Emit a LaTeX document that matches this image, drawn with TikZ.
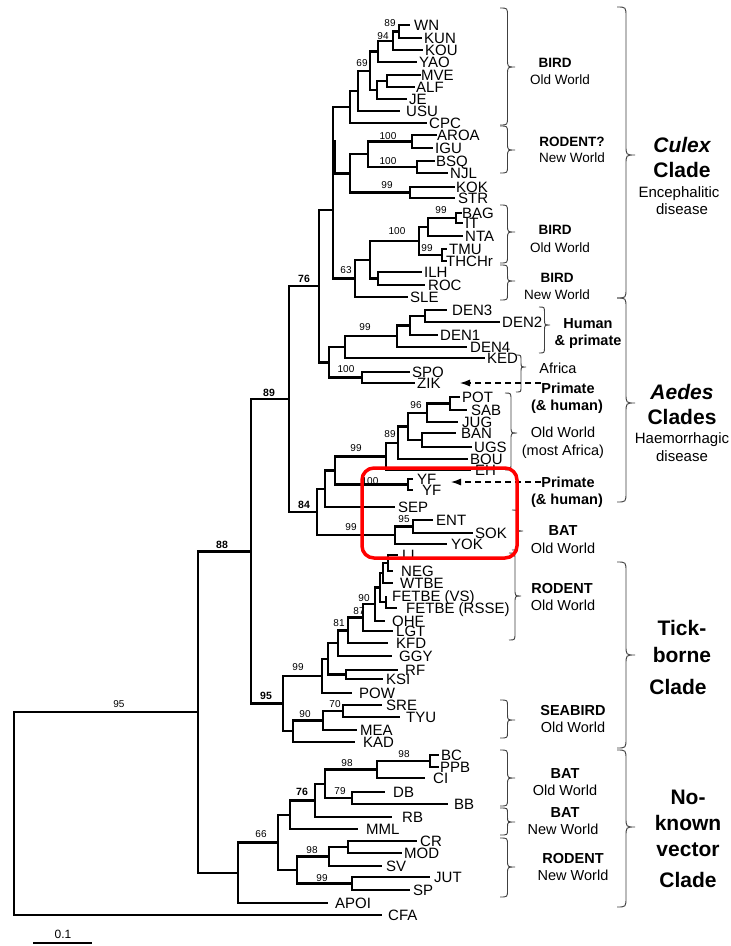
\documentclass[tikz,border=0pt]{standalone}
\usepackage{fontspec}
\setmainfont{Liberation Sans}
\usetikzlibrary{arrows.meta}
\newcommand\fsz[1]{\fontsize{#1}{#1}\selectfont}
\newcommand\leafx[5]{\coordinate (#1) at (#2,#3); \node[lf] (#1t) at (#4,#3) {#5};}
\newcommand\cbrace[6]{%
 \draw[brc] (#1,#2) .. controls ({#1+0.5*#5},#2) .. ({#1+0.5*#5},{#2+#6}) -- ({#1+0.5*#5},{#3-#6}) .. controls ({#1+0.5*#5},#3) .. ({#1+#5},#3) .. controls ({#1+0.5*#5},#3) .. ({#1+0.5*#5},{#3+#6}) -- ({#1+0.5*#5},{#4-#6}) .. controls ({#1+0.5*#5},#4) .. (#1,#4);}
\tikzset{
 br/.style={line width=2.4pt, line join=miter},
 lf/.style={anchor=west, inner sep=0pt, font=\fsz{15}, text height=10.7pt, text depth=0pt},
 bs/.style={inner sep=0pt, font=\fsz{10}, text height=7.2pt, text depth=0pt},
 bsb/.style={inner sep=0pt, font=\fsz{10.5}\bfseries, text height=7.5pt, text depth=0pt},
 ann/.style={inner sep=0pt, font=\fsz{14.5}, text height=10.4pt, text depth=0pt},
 annb/.style={inner sep=0pt, font=\fsz{14.5}\bfseries, text height=10.4pt, text depth=0pt},
 annc/.style={inner sep=0pt, font=\fsz{13.5}, text height=9.7pt, text depth=0pt},
 anncb/.style={inner sep=0pt, font=\fsz{13.5}\bfseries, text height=9.7pt, text depth=0pt},
 big/.style={inner sep=0pt, font=\fsz{21}\bfseries, text height=15pt, text depth=0pt},
 bigi/.style={inner sep=0pt, font=\fsz{21}\bfseries\itshape, text height=15pt, text depth=0pt},
 sub/.style={inner sep=0pt, font=\fsz{15}, text height=10.8pt, text depth=0pt},
 brc/.style={draw=black!75, line width=0.9pt},
 dsh/.style={dashed, dash pattern=on 6pt off 4pt, line width=1.1pt, -{Latex[length=10pt,width=7pt]}},
}
\begin{document}
\begin{tikzpicture}[x=1pt,y=-1pt]
\fill[white] (0,0) rectangle (731,946);
\useasboundingbox (0,0) rectangle (731,946);
% ---------- leaves ----------
\leafx{WN}{410}{25}{414}{WN}
\leafx{KUN}{422}{38}{424}{KUN}
\leafx{KOU}{423}{50}{425}{KOU}
\leafx{YAO}{417}{62}{419}{YAO}
\leafx{MVE}{421}{75}{421}{MVE}
\leafx{ALF}{415}{87}{416}{ALF}
\leafx{JE}{407}{99}{409}{JE}
\leafx{USU}{400}{111}{406}{USU}
\leafx{CPC}{427}{123}{429}{CPC}
\leafx{AROA}{437}{135}{437}{AROA}
\leafx{IGU}{433}{148}{435}{IGU}
\leafx{BSQ}{435}{161}{436}{BSQ}
\leafx{NJL}{448}{173}{450}{NJL}
\leafx{KOK}{455}{187}{456}{KOK}
\leafx{STR}{455}{198}{458}{STR}
\leafx{BAG}{462}{213}{462}{BAG}
\leafx{IT}{463}{223}{465}{IT}
\leafx{NTA}{463}{236}{465}{NTA}
\leafx{TMU}{447}{249}{449}{TMU}
\leafx{THC}{447}{261}{446}{THCHr}
\leafx{ILH}{422}{272}{424}{ILH}
\leafx{ROC}{425}{285}{428}{ROC}
\leafx{SLE}{408}{297}{410}{SLE}
\leafx{DENiii}{447}{310}{452}{DEN3}
\leafx{DENii}{500}{322}{502}{DEN2}
\leafx{DENi}{438}{335}{440}{DEN1}
\leafx{DENiv}{467}{347}{470}{DEN4}
\leafx{KED}{485}{358}{487}{KED}
\leafx{SPO}{410}{372}{412}{SPO}
\leafx{ZIK}{415}{383}{417}{ZIK}
\leafx{POT}{460}{397}{462}{POT}
\leafx{SAB}{467}{410}{471}{SAB}
\leafx{JUG}{458}{422}{462}{JUG}
\leafx{BAN}{456}{433}{461}{BAN}
\leafx{UGS}{472}{447}{474}{UGS}
\leafx{BOU}{468}{459}{470}{BOU}
\leafx{EH}{471}{470}{475}{EH}
\leafx{YFa}{413}{479}{417}{YF}
\leafx{YFb}{413}{490}{422}{YF}
\leafx{SEP}{395}{507}{398}{SEP}
\leafx{ENT}{433}{520}{436}{ENT}
\leafx{SOK}{473}{533}{475}{SOK}
\leafx{YOK}{447}{544}{451}{YOK}
\leafx{LI}{398}{555}{402}{LI}
\leafx{NEG}{393}{571}{401}{NEG}
\leafx{WTBE}{393}{583}{400}{WTBE}
\leafx{FVS}{386}{596}{392}{FETBE (VS)}
\leafx{FRS}{397}{608}{406}{FETBE (RSSE)}
\leafx{OHF}{385}{621}{392}{OHF}
\leafx{LGT}{393}{631}{396}{LGT}
\leafx{KFD}{388}{643}{396}{KFD}
\leafx{GGY}{392}{656}{399}{GGY}
\leafx{RF}{398}{670}{405}{RF}
\leafx{KSI}{383}{679}{386}{KSI}
\leafx{POW}{352}{693}{359}{POW}
\leafx{SRE}{382}{705}{386}{SRE}
\leafx{TYU}{400}{717}{406}{TYU}
\leafx{MEA}{357}{730}{360}{MEA}
\leafx{KAD}{355}{742}{363}{KAD}
\leafx{BC}{439}{755}{441}{BC}
\leafx{PPB}{439}{767}{440}{PPB}
\leafx{CI}{425}{778}{433}{CI}
\leafx{DB}{385}{792}{393}{DB}
\leafx{BB}{448}{804}{454}{BB}
\leafx{RB}{392}{817}{402}{RB}
\leafx{MML}{358}{829}{366}{MML}
\leafx{CR}{417}{841}{420}{CR}
\leafx{MOD}{402}{853}{404}{MOD}
\leafx{SV}{382}{866}{386}{SV}
\leafx{JUT}{430}{877}{434}{JUT}
\leafx{SP}{410}{890}{413}{SP}
\leafx{APOI}{328}{903}{335}{APOI}
\leafx{CFA}{382}{915}{388}{CFA}
% ---------- internal nodes ----------
\coordinate (nAa) at (399,31.5);
\coordinate (nAb) at (393,40.75);
\coordinate (nY) at (378,51.4);
\coordinate (nMA) at (387,81);
\coordinate (nJ) at (377,90);
\coordinate (nSix) at (370,70.7);
\coordinate (nU) at (358,90.9);
\coordinate (nC) at (350,107);
\coordinate (nAI) at (412,141.5);
\coordinate (nBN) at (417,167);
\coordinate (nAB) at (368,154.25);
\coordinate (nKS) at (410,192.5);
\coordinate (nA) at (350,173.4);
\coordinate (nBI) at (456,218);
\coordinate (nBN2) at (428,227);
\coordinate (nTT) at (442,255);
\coordinate (nFn) at (419,241);
\coordinate (nIR) at (378,278.5);
\coordinate (nSv) at (370,259.75);
\coordinate (nSx) at (355,278.4);
\coordinate (cul) at (333,210);
\coordinate (nDa) at (425,316);
\coordinate (nDb) at (410,325.5);
\coordinate (nDc) at (397,336.25);
\coordinate (nK) at (345,347.1);
\coordinate (nSZ) at (362,377.5);
\coordinate (nDZ) at (329,362.3);
\coordinate (nSeventy) at (319,286.2);
\coordinate (nPS) at (450,403.5);
\coordinate (nPJ) at (427,412.75);
\coordinate (nBU) at (422,440);
\coordinate (nPB) at (408,426.4);
\coordinate (nBo) at (398,442.7);
\coordinate (nEH) at (386,456.35);
\coordinate (nYF) at (408,484.5);
\coordinate (nNa) at (335,470.4);
\coordinate (nSEP) at (325,488.7);
\coordinate (nES) at (413,526.5);
\coordinate (nYOK) at (395,535.25);
\coordinate (nEf) at (317,512);
\coordinate (nEn) at (289,399.1);
\coordinate (nLN) at (388,563);
\coordinate (nW) at (383,573);
\coordinate (nF) at (386,602);
\coordinate (nWF) at (380,587.5);
\coordinate (nO) at (375,604.25);
\coordinate (nL) at (363,617.6);
\coordinate (nKF) at (348,630.3);
\coordinate (nG) at (338,643.2);
\coordinate (nRK) at (346,674.5);
\coordinate (nR) at (328,658.8);
\coordinate (nP) at (322,675.9);
\coordinate (nST) at (343,711);
\coordinate (nM) at (323,720.5);
\coordinate (nKA) at (293,731.25);
\coordinate (nTk) at (283,703.6);
\coordinate (nTf) at (251,551.3);
\coordinate (nBP) at (430,761);
\coordinate (nCI) at (377,769.5);
\coordinate (nDB) at (352,798);
\coordinate (nTw) at (325,783.75);
\coordinate (nRB) at (315,800.4);
\coordinate (nMM) at (290,814.7);
\coordinate (nCM) at (348,847);
\coordinate (nSV) at (329,856.5);
\coordinate (nJS) at (352,883.5);
\coordinate (nNs) at (297,870);
\coordinate (nSs) at (278,842.3);
\coordinate (nTe) at (238,872.7);
\coordinate (nEe) at (198,712);
\coordinate (root) at (14,813.5);
% ---------- edges ----------
\foreach \p/\c in {nAa/WN,nAa/KUN,nAb/nAa,nAb/KOU,nY/nAb,nY/YAO,nMA/MVE,nMA/ALF,nJ/nMA,nJ/JE,
 nSix/nY,nSix/nJ,nU/nSix,nU/USU,nC/nU,nC/CPC,nAI/AROA,nAI/IGU,nBN/BSQ,nBN/NJL,nAB/nAI,nAB/nBN,
 nKS/KOK,nKS/STR,nA/nAB,nA/nKS,nBI/BAG,nBI/IT,nBN2/nBI,nBN2/NTA,nTT/TMU,nTT/THC,nFn/nBN2,nFn/nTT,
 nIR/ILH,nIR/ROC,nSv/nFn,nSv/nIR,nSx/nSv,nSx/SLE,cul/nC,cul/nA,cul/nSx,
 nDa/DENiii,nDa/DENii,nDb/nDa,nDb/DENi,nDc/nDb,nDc/DENiv,nK/nDc,nK/KED,nSZ/SPO,nSZ/ZIK,nDZ/nK,nDZ/nSZ,
 nSeventy/cul,nSeventy/nDZ,
 nPS/POT,nPS/SAB,nPJ/nPS,nPJ/JUG,nBU/BAN,nBU/UGS,nPB/nPJ,nPB/nBU,nBo/nPB,nBo/BOU,nEH/nBo,nEH/EH,
 nYF/YFa,nYF/YFb,nNa/nEH,nNa/nYF,nSEP/nNa,nSEP/SEP,nES/ENT,nES/SOK,nYOK/nES,nYOK/YOK,nEf/nSEP,nEf/nYOK,
 nEn/nSeventy,nEn/nEf,
 nLN/LI,nLN/NEG,nW/nLN,nW/WTBE,nF/FVS,nF/FRS,nWF/nW,nWF/nF,nO/nWF,nO/OHF,nL/nO,nL/LGT,nKF/nL,nKF/KFD,
 nG/nKF,nG/GGY,nRK/RF,nRK/KSI,nR/nG,nR/nRK,nP/nR,nP/POW,nST/SRE,nST/TYU,nM/nST,nM/MEA,nKA/nM,nKA/KAD,
 nTk/nP,nTk/nKA,nTf/nEn,nTf/nTk,
 nBP/BC,nBP/PPB,nCI/nBP,nCI/CI,nDB/DB,nDB/BB,nTw/nCI,nTw/nDB,nRB/nTw,nRB/RB,nMM/nRB,nMM/MML,
 nCM/CR,nCM/MOD,nSV/nCM,nSV/SV,nJS/JUT,nJS/SP,nNs/nSV,nNs/nJS,nSs/nMM,nSs/nNs,nTe/nSs,nTe/APOI,
 nEe/nTf,nEe/nTe,root/nEe,root/CFA}
 {\draw[br] (\p) |- (\c);}
\draw[line width=3.6pt] (334,140) -- (334,173.4);
% ---------- bootstrap values ----------
\node[bs] (b1) at (390,23) {89};
\node[bs] (b2) at (383,36) {94};
\node[bs] (b3) at (362,63) {69};
\node[bs] (b4) at (388,136) {100};
\node[bs] (b5) at (388,161) {100};
\node[bs] (b6) at (387,185) {99};
\node[bs] (b7) at (441,210) {99};
\node[bs] (b8) at (397,231) {100};
\node[bs] (b9) at (427,248) {99};
\node[bs] (b10) at (346,270) {63};
\node[bsb] (b11) at (304,279) {76};
\node[bs] (b12) at (365,327) {99};
\node[bs] (b13) at (346,369) {100};
\node[bsb] (b14) at (269,393) {89};
\node[bsb] (b15) at (304,505) {84};
\node[bsb] (b16) at (222,545) {88};
\node[bs] (b17) at (119,704) {95};
\node[bsb] (b18) at (266,696) {95};
\node[bs] (b19) at (416,405) {96};
\node[bs] (b20) at (390,434) {89};
\node[bs] (b21) at (356,448) {99};
\node[bs] (b22) at (370,481) {100};
\node[bs] (b23) at (404,519) {95};
\node[bs] (b24) at (351,527) {99};
\node[bs] (b25) at (364,598) {90};
\node[bs] (b26) at (359,611) {87};
\node[bs] (b27) at (339,623) {81};
\node[bs] (b28) at (298,667) {99};
\node[bs] (b29) at (335,704) {70};
\node[bs] (b30) at (305,714) {90};
\node[bs] (b31) at (404,754) {98};
\node[bs] (b32) at (347,763) {98};
\node[bs] (b33) at (340,791) {79};
\node[bsb] (b34) at (302,792) {76};
\node[bs] (b35) at (261,834) {66};
\node[bs] (b36) at (312,850) {98};
\node[bs] (b37) at (322,878) {99};
% ---------- small braces ----------
\cbrace{500}{8}{67}{125}{15}{8}
\cbrace{500}{126}{150}{173}{15}{7}
\cbrace{500}{205}{232}{263}{15}{7}
\cbrace{500}{265}{281}{300}{15}{6}
\cbrace{539}{307}{325}{353}{11}{6}
\cbrace{516}{355}{367}{392}{10}{5}
\cbrace{505}{393}{433}{470}{12}{7}
\cbrace{512}{510}{531}{550}{11}{6}
\cbrace{509}{553}{596}{640}{12}{7}
\cbrace{500}{700}{720}{738}{15}{6}
\cbrace{500}{750}{778}{806}{15}{7}
\cbrace{500}{808}{822}{835}{15}{5}
\cbrace{500}{838}{867}{897}{15}{7}
% ---------- large braces ----------
\cbrace{617}{7}{155}{298}{18}{10}
\cbrace{617}{298}{403}{502}{18}{10}
\cbrace{617}{562}{655}{748}{18}{10}
\cbrace{617}{750}{827}{907}{18}{10}
% ---------- annotations ----------
\node[anncb] (a1) at (555,63) {BIRD};
\node[annc] (a2) at (560,80) {Old World};
\node[anncb] (a3) at (572,142) {RODENT?};
\node[annc] (a4) at (572,158) {New World};
\node[anncb] (a5) at (555,230) {BIRD};
\node[annc] (a6) at (560,248) {Old World};
\node[anncb] (a7) at (557,278) {BIRD};
\node[annc] (a8) at (557,295) {New World};
\node[annb] (a9) at (588,323) {Human};
\node[annb] (a10) at (588,340) {\& primate};
\node[ann] (a11) at (558,368) {Africa};
\node[annb] (a12) at (568,388) {Primate};
\node[annb] (a13) at (567,405) {(\& human)};
\node[ann] (a14) at (563,432) {Old World};
\node[ann] (a15) at (563,450) {(most Africa)};
\node[annb] (a16) at (568,482) {Primate};
\node[annb] (a17) at (567,499) {(\& human)};
\node[annb] (a18) at (563,530) {BAT};
\node[ann] (a19) at (563,548) {Old World};
\node[annb] (a20) at (562,588) {RODENT};
\node[ann] (a21) at (563,605) {Old World};
\node[annb] (a22) at (573,710) {SEABIRD};
\node[ann] (a23) at (573,727) {Old World};
\node[annb] (a24) at (565,773) {BAT};
\node[ann] (a25) at (565,790) {Old World};
\node[annb] (a26) at (565,812) {BAT};
\node[ann] (a27) at (563,829) {New World};
\node[annb] (a28) at (573,858) {RODENT};
\node[ann] (a29) at (573,875) {New World};
% clade titles
\node[bigi] (c1) at (682,145) {Culex};
\node[big] (c2) at (682,170) {Clade};
\node[sub] (c3) at (679,192) {Encephalitic};
\node[sub] (c4) at (682,209) {disease};
\node[bigi] (c5) at (682,392) {Aedes};
\node[big] (c6) at (682,417) {Clades};
\node[sub] (c7) at (682,438) {Haemorrhagic};
\node[sub] (c8) at (682,456) {disease};
\node[big] (c9) at (682,628) {Tick-};
\node[big] (c10) at (682,655) {borne};
\node[big] (c11) at (678,687) {Clade};
\node[big] (c12) at (688,797) {No-};
\node[big] (c13) at (688,823) {known};
\node[big] (c14) at (688,849) {vector};
\node[big] (c15) at (688,880) {Clade};
% dashed arrows
\coordinate (d1s) at (541,383);
\coordinate (d1e) at (460,383);
\draw[dsh] (d1s) -- (d1e);
\coordinate (d2s) at (541,482);
\coordinate (d2e) at (451,482);
\draw[dsh] (d2s) -- (d2e);
% red highlight box
\draw[red, line width=3.5pt, rounded corners=12pt] (362,468) rectangle (517,558);
% scale bar
\coordinate (sbl) at (33,943);
\coordinate (sbr) at (92,943);
\draw[line width=1.6pt] (sbl) -- (sbr);
\node[bs, font=\fsz{12}, text height=8.6pt] (sbt) at (63,934) {0.1};
\end{tikzpicture}
\end{document}
